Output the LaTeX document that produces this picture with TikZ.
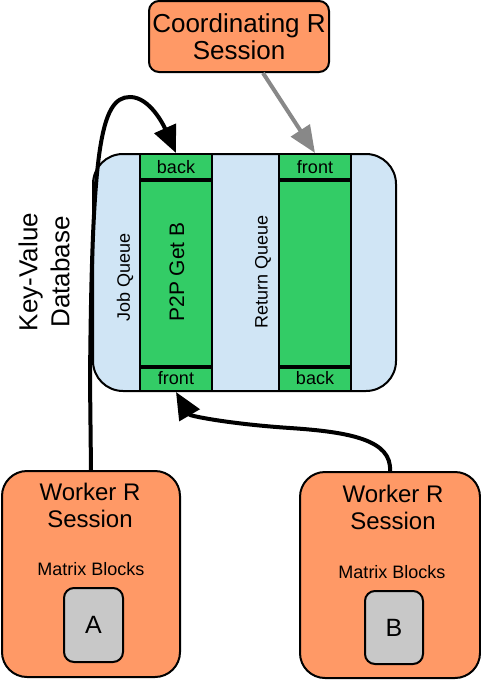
\documentclass[tikz,border=0pt]{standalone}
\usepackage{fontspec}
\setmainfont{Liberation Sans}
\usetikzlibrary{arrows.meta}
\definecolor{orng}{HTML}{FF9966}
\definecolor{grn}{HTML}{33CC66}
\definecolor{lblue}{HTML}{D0E5F5}
\definecolor{gry}{HTML}{C8C8C8}
\definecolor{arrgray}{HTML}{888888}
\tikzset{
  session/.style={draw, line width=2pt, fill=orng, inner sep=0pt},
  dbbox/.style={draw, line width=2pt, fill=lblue, rounded corners=30pt, inner sep=0pt},
  cell/.style={draw, line width=2pt, fill=grn, inner sep=0pt, minimum width=72pt,
    font=\fontsize{18}{20}\selectfont},
  block/.style={draw, line width=2pt, fill=gry, rounded corners=10pt, inner sep=0pt,
    font=\fontsize{25}{27}\selectfont},
  bigtxt/.style={align=center, inner sep=0pt, font=\fontsize{24}{27}\selectfont},
  midtxt/.style={inner sep=0pt, font=\fontsize{18}{20}\selectfont},
  sep/.style={line width=4pt},
  flow/.style={line width=4pt, -{Triangle[length=27pt,width=23pt]}},
  grayflow/.style={line width=4pt, draw=arrgray, -{Triangle[length=27pt,width=22pt,fill=arrgray]}}
}
\begin{document}
\begin{tikzpicture}[x=1pt,y=-1pt]
\useasboundingbox (0,0) rectangle (481,680);
% coordinating session
\node[session, rounded corners=10pt, minimum width=180pt, minimum height=71pt,
  align=center, font=\fontsize{26}{27}\selectfont] (coord) at (239,36.5) {Coordinating R\\Session};
% database
\node[dbbox, minimum width=303pt, minimum height=237pt] (db) at (244.5,272.5) {};
% job queue column
\node[cell, minimum height=27pt] (jback) at (176,167.5) {back};
\node[cell, minimum height=185pt] (jmid) at (176,273.5) {};
\node[cell, minimum height=25pt] (jfront) at (176,378.5) {front};
\draw[sep] (jmid.north west) -- (jmid.north east);
\draw[sep] (jmid.south west) -- (jmid.south east);
% return queue column
\node[cell, minimum height=27pt] (rfront) at (315,167.5) {front};
\node[cell, minimum height=185pt] (rmid) at (315,273.5) {};
\node[cell, minimum height=25pt] (rback) at (315,378.5) {back};
\draw[sep] (rmid.north west) -- (rmid.north east);
\draw[sep] (rmid.south west) -- (rmid.south east);
% rotated labels
\node[midtxt, rotate=90] (jq) at (125,277) {Job Queue};
\node[inner sep=0pt, rotate=90, font=\fontsize{21}{23}\selectfont] (p2p) at (177,272) {P2P Get B};
\node[midtxt, rotate=90] (rq) at (263,272) {Return Queue};
\node[align=center, inner sep=0pt, rotate=90, font=\fontsize{26}{32}\selectfont] (kv) at (44,272) {Key-Value\\Database};
% worker sessions
\node[session, rounded corners=25pt, minimum width=178pt, minimum height=206pt] (wl) at (91,574) {};
\node[session, rounded corners=25pt, minimum width=180pt, minimum height=206pt] (wr) at (390,575) {};
\node[bigtxt] (wlt) at (90,505.5) {Worker R\\Session};
\node[bigtxt] (wrt) at (393,507.5) {Worker R\\Session};
\node[midtxt] (wlm) at (91,569) {Matrix Blocks};
\node[midtxt] (wrm) at (392,572) {Matrix Blocks};
\node[block, minimum width=59pt, minimum height=74pt] (ba) at (93.5,625) {A};
\node[block, minimum width=58pt, minimum height=73pt] (bb) at (394,627.5) {B};
% connectors
\draw[grayflow] ([xshift=24pt]coord.south) -- (rfront.north);
\draw[flow] (wl.north) -- (90,380) .. controls (92,150) and (100,97) .. (130,97)
  .. controls (150,97) and (164,126) .. (jback.north);
\draw[flow] (wr.north) .. controls (392,440) and (350,432) .. (290,428)
  .. controls (230,424) and (190,416) .. (jfront.south);
\end{tikzpicture}
\end{document}
